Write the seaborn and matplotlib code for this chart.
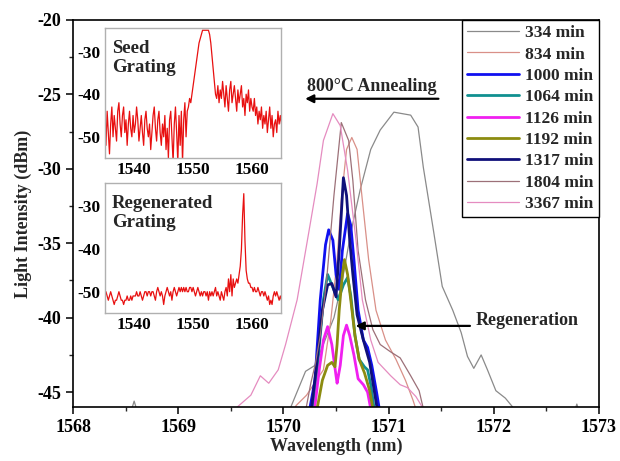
import numpy as np
import seaborn as sns
import matplotlib.pyplot as plt
from matplotlib.ticker import MultipleLocator

sns.set_theme(style='ticks')
plt.rcParams['font.family'] = ['Liberation Serif', 'DejaVu Serif']
plt.rcParams['font.weight'] = 'bold'
plt.rcParams['axes.unicode_minus'] = False

## main spectra (wavelength nm, intensity dBm)
wl_334 = [1568.0, 1568.52, 1568.58, 1568.64, 1569.9, 1570.07, 1570.21, 1570.30, 1570.48, 1570.56, 1570.64,
          1570.73, 1570.83, 1570.92, 1571.05, 1571.21, 1571.28, 1571.33, 1571.43, 1571.51, 1571.61,
          1571.69, 1571.75, 1571.81, 1571.88, 1571.94, 1572.02, 1572.11, 1572.18, 1572.3, 1572.74,
          1572.79, 1572.84, 1573.0]
db_334 = [-47, -47, -45.6, -47, -47, -46.0, -43.6, -43.2, -40.0, -37.5, -34.3,
          -31.4, -28.7, -27.4, -26.2, -26.4, -27.2, -29.9, -34.3, -37.9, -39.5,
          -41.0, -42.6, -43.4, -42.5, -43.5, -44.9, -45.4, -46.0, -47, -47,
          -45.8, -47, -47]

wl_834 = [1570.05, 1570.12, 1570.22, 1570.38, 1570.45, 1570.51, 1570.55, 1570.60, 1570.65, 1570.70,
          1570.75, 1570.81, 1570.88, 1570.97, 1571.07, 1571.16, 1571.23, 1571.30]
db_834 = [-47, -45.9, -45.2, -43.5, -40.2, -36.1, -32.1, -28.7, -27.9, -28.7,
          -32.1, -36.1, -39.5, -41.5, -42.8, -44.2, -45.5, -47]

wl_1000 = [1570.24, 1570.30, 1570.35, 1570.40, 1570.43, 1570.47, 1570.50, 1570.53, 1570.56, 1570.61,
           1570.64, 1570.67, 1570.71, 1570.76, 1570.80, 1570.84, 1570.89, 1570.92]
db_1000 = [-46.5, -44.2, -38.8, -35.1, -34.1, -34.8, -37.1, -38.1, -35.5, -33.0,
           -33.8, -36.1, -39.5, -41.5, -42.0, -43.2, -45.2, -46.5]

wl_1064 = [1570.28, 1570.33, 1570.38, 1570.42, 1570.46, 1570.49, 1570.52, 1570.57, 1570.61, 1570.64,
           1570.68, 1570.72, 1570.77, 1570.80, 1570.83, 1570.87]
db_1064 = [-46.5, -42.8, -38.8, -37.1, -37.8, -38.3, -38.8, -37.8, -37.3, -38.5,
           -41.2, -42.8, -43.3, -43.5, -44.5, -46.5]

wl_1126 = [1570.29, 1570.34, 1570.38, 1570.42, 1570.46, 1570.50, 1570.51, 1570.54, 1570.57, 1570.60,
           1570.63, 1570.67, 1570.71, 1570.76, 1570.80, 1570.84]
db_1126 = [-46.5, -43.5, -41.5, -40.6, -41.8, -43.9, -44.4, -43.2, -41.2, -40.5,
           -41.2, -42.5, -44.1, -44.5, -45.0, -46.5]

wl_1192 = [1570.31, 1570.37, 1570.42, 1570.46, 1570.49, 1570.51, 1570.53, 1570.56, 1570.58, 1570.61,
           1570.64, 1570.68, 1570.72, 1570.77, 1570.82, 1570.86]
db_1192 = [-46.5, -44.2, -43.2, -43.0, -43.3, -41.8, -39.5, -37.1, -36.1, -37.1,
           -38.8, -41.2, -42.8, -43.7, -44.9, -46.5]

wl_1317 = [1570.26, 1570.31, 1570.37, 1570.42, 1570.46, 1570.50, 1570.53, 1570.57, 1570.60, 1570.63,
           1570.66, 1570.70, 1570.76, 1570.82, 1570.87, 1570.90]
db_1317 = [-46.5, -43.5, -39.5, -37.8, -37.7, -38.6, -35.5, -30.6, -31.8, -34.8,
           -37.1, -39.8, -41.5, -43.0, -45.2, -46.5]

wl_1804 = [1570.18, 1570.22, 1570.26, 1570.30, 1570.35, 1570.41, 1570.48, 1570.55, 1570.62, 1570.66,
           1570.71, 1570.78, 1570.85, 1570.92, 1571.02, 1571.11, 1571.21, 1571.29, 1571.36]
db_1804 = [-47, -45.9, -44.4, -43.2, -41.2, -37.5, -31.8, -26.9, -28.1, -30.8,
           -35.5, -38.8, -40.8, -41.8, -42.3, -42.7, -43.9, -44.9, -47]

wl_3367 = [1569.50, 1569.56, 1569.69, 1569.78, 1569.86, 1569.95, 1570.02, 1570.13, 1570.24, 1570.32,
           1570.38, 1570.47, 1570.54, 1570.61, 1570.69, 1570.75, 1570.83, 1570.90, 1571.02, 1571.11,
           1571.18, 1571.26, 1571.32, 1571.40]
db_3367 = [-47, -46.0, -45.2, -43.9, -44.4, -43.5, -41.8, -38.8, -34.3, -31.0,
           -28.1, -26.3, -27.1, -30.1, -34.8, -38.8, -41.5, -43.0, -43.9, -44.5,
           -44.7, -45.3, -46.0, -47]

labels = ['334 min', '834 min', '1000 min', '1064 min', '1126 min',
          '1192 min', '1317 min', '1804 min', '3367 min']
series = [(wl_334, db_334), (wl_834, db_834), (wl_1000, db_1000), (wl_1064, db_1064),
          (wl_1126, db_1126), (wl_1192, db_1192), (wl_1317, db_1317),
          (wl_1804, db_1804), (wl_3367, db_3367)]
colors = ['#8a8a8a', '#d99088', '#1010f0', '#109090', '#f020f0',
          '#8c8c10', '#10107a', '#9c7078', '#e58cc0']
widths = [0.9, 0.9, 2.0, 2.0, 2.0, 2.0, 2.0, 0.9, 0.9]

## inset spectra, 1535-1565 nm every 0.2 nm
inset_wl = np.round(np.arange(1535.0, 1565.01, 0.2), 1)
seed_db = [-46,
           -52, -44, -49, -54, -47, -43, -50, -45, -48, -51,
           -44, -42, -47, -50, -45, -43, -49, -46, -52, -47,
           -44, -48, -50, -45, -49, -47, -43, -46, -51, -48,
           -45, -49, -52, -46, -44, -48, -50, -47, -53, -49,
           -45, -43, -48, -51, -46, -44, -49, -52, -47, -50,
           -45, -53, -48, -55, -46, -44, -50, -56, -47, -43,
           -49, -56, -45, -52, -44, -56, -46, -42, -50, -44,
           -43, -41, -42, -40, -38, -36, -34, -32, -30, -28,
           -27, -26, -25, -25, -25, -25, -25, -25, -26, -28,
           -31, -34, -37, -40, -41, -38, -42, -39, -41, -37,
           -40, -43, -38, -41, -44, -39, -37, -42, -40, -38,
           -41, -44, -39, -42, -40, -38, -43, -41, -45, -40,
           -42, -39, -44, -41, -43, -44, -41, -45, -43, -47,
           -44, -46, -43, -48, -45, -47, -44, -49, -46, -43,
           -48, -45, -50, -47, -46, -49, -44, -47, -45, -47]
regen_db = [-51,
            -50, -51, -52, -51, -50, -51, -52, -53, -52, -52,
            -51, -50, -51, -52, -52, -53, -52, -52, -51, -52,
            -52, -51, -52, -51, -51, -51, -50, -51, -51, -50,
            -51, -52, -51, -50, -50, -51, -50, -50, -51, -50,
            -50, -51, -52, -50, -49, -50, -51, -50, -51, -53,
            -51, -50, -49, -50, -51, -50, -52, -50, -49, -50,
            -51, -50, -49, -50, -49, -50, -49, -50, -49, -50,
            -50, -49, -49, -50, -49, -50, -51, -50, -49, -50,
            -51, -50, -51, -50, -50, -51, -50, -52, -50, -51,
            -50, -51, -50, -49, -51, -50, -51, -52, -50, -51,
            -52, -50, -49, -51, -47, -50, -46, -51, -47, -49,
            -48, -47, -48, -46, -44, -40, -32, -27, -38, -45,
            -47, -48, -48, -49, -49, -50, -49, -50, -50, -49,
            -50, -51, -50, -50, -51, -50, -51, -52, -51, -53,
            -52, -53, -51, -50, -51, -50, -51, -52, -51, -52]

fig = plt.figure(figsize=(6.2, 4.61), dpi=100)
ax = fig.add_axes([0.118, 0.117, 0.848, 0.840])

for (wl, db), lab, c, w in zip(series, labels, colors, widths):
    sns.lineplot(x=wl, y=db, ax=ax, color=c, lw=w, label=lab, sort=False, estimator=None)

ax.set_xlim(1568, 1573)
ax.set_ylim(-46, -20)
ax.xaxis.set_major_locator(MultipleLocator(1))
ax.xaxis.set_minor_locator(MultipleLocator(0.5))
ax.yaxis.set_major_locator(MultipleLocator(5))
ax.yaxis.set_minor_locator(MultipleLocator(2.5))
ax.tick_params(which='major', direction='out', length=5, width=1.1, labelsize=13, colors='black')
ax.tick_params(which='minor', direction='out', length=3, width=1.0)
for sp in ax.spines.values():
    sp.set_color('black')
    sp.set_linewidth(1.2)
for t in ax.get_xticklabels() + ax.get_yticklabels():
    t.set_fontweight('bold')
ax.set_xlabel('Wavelength (nm)', fontsize=13, fontweight='bold', labelpad=1)
ax.set_ylabel('Light Intensity (dBm)', fontsize=13, fontweight='bold', labelpad=4)

leg = ax.legend(loc='upper right', bbox_to_anchor=(1.0, 1.0), borderaxespad=0, frameon=True,
                fancybox=False, framealpha=1, edgecolor='black', handlelength=3.0,
                labelspacing=0.3, handletextpad=0.35, borderpad=0.3,
                prop={'weight': 'bold', 'size': 12.5})
leg.get_frame().set_linewidth(1.0)

ax.annotate('', xy=(1570.18, -25.3), xytext=(1571.50, -25.3),
            arrowprops=dict(arrowstyle='-|>', color='black', lw=1.6, mutation_scale=12))
ax.text(1570.84, -24.5, '800°C Annealing', ha='center', va='center', fontsize=13, fontweight='bold')
ax.annotate('', xy=(1570.66, -40.55), xytext=(1571.80, -40.55),
            arrowprops=dict(arrowstyle='-|>', color='black', lw=1.6, mutation_scale=12))
ax.text(1571.83, -40.2, 'Regeneration', ha='left', va='center', fontsize=13, fontweight='bold')

## insets
for box, vals, name in [([0.169, 0.657, 0.285, 0.282], seed_db, 'Seed\nGrating'),
                        ([0.169, 0.321, 0.285, 0.282], regen_db, 'Regenerated\nGrating')]:
    ins = fig.add_axes(box)
    sns.lineplot(x=inset_wl, y=vals, ax=ins, color='#e81010', lw=0.9, estimator=None)
    ins.set_xlim(1535, 1565)
    ins.set_ylim(-55, -24.5)
    ins.set_xticks([1540, 1550, 1560])
    ins.set_yticks([-50, -40, -30])
    ins.tick_params(length=0, pad=3, labelsize=12.5, colors='black')
    for t in ins.get_xticklabels() + ins.get_yticklabels():
        t.set_fontweight('bold')
    for sp in ins.spines.values():
        sp.set_color('#b0b0b0')
        sp.set_linewidth(1.0)
    ins.set_xlabel('')
    ins.set_ylabel('')
    ins.text(0.04, 0.91, name, transform=ins.transAxes, ha='left', va='top',
             fontsize=13.5, fontweight='bold', linespacing=1.2)

fig.savefig('out.png', dpi=100)
